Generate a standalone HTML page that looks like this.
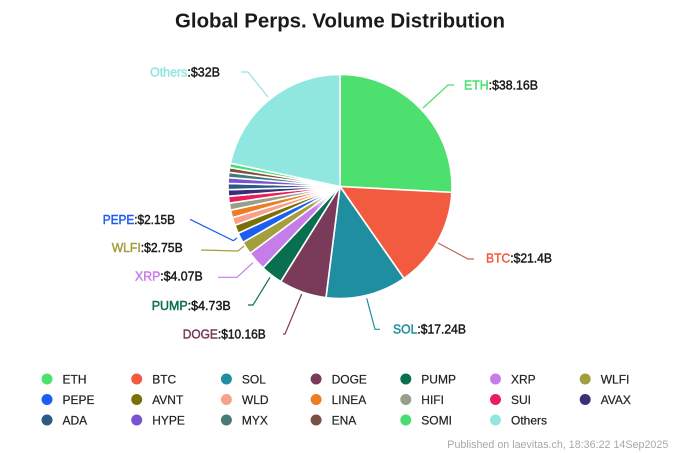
<!DOCTYPE html>
<html>
<head>
<meta charset="utf-8">
<style>
  html,body{margin:0;padding:0;background:#fff;}
  body{width:680px;height:453px;overflow:hidden;}
  svg{display:block;font-family:"Liberation Sans",sans-serif;}
</style>
</head>
<body>
<svg id="chart" width="680" height="453" viewBox="0 0 680 453" xmlns="http://www.w3.org/2000/svg">
  <defs>
    <radialGradient id="fade" cx="340" cy="186.5" r="34" gradientUnits="userSpaceOnUse">
      <stop offset="0" stop-color="#fff" stop-opacity="1"/>
      <stop offset="0.55" stop-color="#fff" stop-opacity="0.9"/>
      <stop offset="1" stop-color="#fff" stop-opacity="0"/>
    </radialGradient>
  </defs>
  <rect width="680" height="453" fill="#fff"/>
  <text x="340" y="27.5" text-anchor="middle" font-size="20.5" font-weight="bold" fill="#1a1a1a" textLength="330" lengthAdjust="spacingAndGlyphs">Global Perps. Volume Distribution</text>

  <g id="pie"></g>

  <!-- leader lines -->
  <g fill="none" stroke-width="1.2">
    <polyline points="423,108 448,85 454,85" stroke="#4ee06f"/>
    <polyline points="268,97 248,72 241,72" stroke="#90e7df"/>
    <polyline points="438,243 468,259 474,259" stroke="#c0675a"/>
    <polyline points="366.7,298.3 375,329.3 380,329.3" stroke="#208ea1"/>
    <polyline points="301.7,294 285,334 283,334" stroke="#7a3b5b"/>
    <polyline points="270,277.3 253,305 248,305" stroke="#08704f"/>
    <polyline points="253,262.7 237,277.3 218,277.3" stroke="#c77de9"/>
    <polyline points="244,246 238,251 201,250" stroke="#a39f3d"/>
    <polyline points="237,238 233.3,240.7 190,219.3" stroke="#1c5df2"/>
  </g>

  <!-- pie labels -->
  <g font-size="12.5" stroke-width="0.45">
    <text x="150" y="76.5" textLength="70" lengthAdjust="spacingAndGlyphs"><tspan fill="#90e7df" stroke="#90e7df">Others</tspan><tspan fill="#1a1a1a" stroke="#1a1a1a">:$32B</tspan></text>
    <text x="464" y="89.5" textLength="74" lengthAdjust="spacingAndGlyphs"><tspan fill="#4ee06f" stroke="#4ee06f">ETH</tspan><tspan fill="#1a1a1a" stroke="#1a1a1a">:$38.16B</tspan></text>
    <text x="486" y="262.5" textLength="66" lengthAdjust="spacingAndGlyphs"><tspan fill="#f35b40" stroke="#f35b40">BTC</tspan><tspan fill="#1a1a1a" stroke="#1a1a1a">:$21.4B</tspan></text>
    <text x="393" y="333.5" textLength="73" lengthAdjust="spacingAndGlyphs"><tspan fill="#208ea1" stroke="#208ea1">SOL</tspan><tspan fill="#1a1a1a" stroke="#1a1a1a">:$17.24B</tspan></text>
    <text x="182.7" y="338.5" textLength="83" lengthAdjust="spacingAndGlyphs"><tspan fill="#7a3b5b" stroke="#7a3b5b">DOGE</tspan><tspan fill="#1a1a1a" stroke="#1a1a1a">:$10.16B</tspan></text>
    <text x="151.7" y="310" textLength="79" lengthAdjust="spacingAndGlyphs"><tspan fill="#08704f" stroke="#08704f">PUMP</tspan><tspan fill="#1a1a1a" stroke="#1a1a1a">:$4.73B</tspan></text>
    <text x="135" y="280.5" textLength="67.7" lengthAdjust="spacingAndGlyphs"><tspan fill="#c77de9" stroke="#c77de9">XRP</tspan><tspan fill="#1a1a1a" stroke="#1a1a1a">:$4.07B</tspan></text>
    <text x="111.7" y="251.8" textLength="71" lengthAdjust="spacingAndGlyphs"><tspan fill="#a39f3d" stroke="#a39f3d">WLFI</tspan><tspan fill="#1a1a1a" stroke="#1a1a1a">:$2.75B</tspan></text>
    <text x="102.7" y="223.8" textLength="72.3" lengthAdjust="spacingAndGlyphs"><tspan fill="#1c5df2" stroke="#1c5df2">PEPE</tspan><tspan fill="#1a1a1a" stroke="#1a1a1a">:$2.15B</tspan></text>
  </g>

  <!-- legend -->
  <g font-size="12" fill="#222" stroke="#222" stroke-width="0.2">
    <circle cx="47" cy="379" r="5.5" fill="#4ee06f" stroke="none"/><text x="62.5" y="383.3">ETH</text>
    <circle cx="136.7" cy="379" r="5.5" fill="#f35b40" stroke="none"/><text x="152.2" y="383.3">BTC</text>
    <circle cx="226.4" cy="379" r="5.5" fill="#208ea1" stroke="none"/><text x="241.9" y="383.3">SOL</text>
    <circle cx="316.1" cy="379" r="5.5" fill="#7a3b5b" stroke="none"/><text x="331.6" y="383.3">DOGE</text>
    <circle cx="405.8" cy="379" r="5.5" fill="#08704f" stroke="none"/><text x="421.3" y="383.3">PUMP</text>
    <circle cx="495.5" cy="379" r="5.5" fill="#c77de9" stroke="none"/><text x="511" y="383.3">XRP</text>
    <circle cx="585.2" cy="379" r="5.5" fill="#a39f3d" stroke="none"/><text x="600.7" y="383.3">WLFI</text>

    <circle cx="47" cy="399.5" r="5.5" fill="#1c5df2" stroke="none"/><text x="62.5" y="403.8">PEPE</text>
    <circle cx="136.7" cy="399.5" r="5.5" fill="#7a7106" stroke="none"/><text x="152.2" y="403.8">AVNT</text>
    <circle cx="226.4" cy="399.5" r="5.5" fill="#f8a08b" stroke="none"/><text x="241.9" y="403.8">WLD</text>
    <circle cx="316.1" cy="399.5" r="5.5" fill="#ea7d26" stroke="none"/><text x="331.6" y="403.8">LINEA</text>
    <circle cx="405.8" cy="399.5" r="5.5" fill="#959f8a" stroke="none"/><text x="421.3" y="403.8">HIFI</text>
    <circle cx="495.5" cy="399.5" r="5.5" fill="#e91f5d" stroke="none"/><text x="511" y="403.8">SUI</text>
    <circle cx="585.2" cy="399.5" r="5.5" fill="#3c2f78" stroke="none"/><text x="600.7" y="403.8">AVAX</text>

    <circle cx="47" cy="420" r="5.5" fill="#2c5a83" stroke="none"/><text x="62.5" y="424.3">ADA</text>
    <circle cx="136.7" cy="420" r="5.5" fill="#7853d4" stroke="none"/><text x="152.2" y="424.3">HYPE</text>
    <circle cx="226.4" cy="420" r="5.5" fill="#467a77" stroke="none"/><text x="241.9" y="424.3">MYX</text>
    <circle cx="316.1" cy="420" r="5.5" fill="#7a5043" stroke="none"/><text x="331.6" y="424.3">ENA</text>
    <circle cx="405.8" cy="420" r="5.5" fill="#46dd74" stroke="none"/><text x="421.3" y="424.3">SOMI</text>
    <circle cx="495.5" cy="420" r="5.5" fill="#90e7df" stroke="none"/><text x="511" y="424.3">Others</text>
  </g>

  <text x="447.3" y="448" font-size="11" fill="#a8a8a8" textLength="221" lengthAdjust="spacingAndGlyphs">Published on laevitas.ch, 18:36:22 14Sep2025</text>
</svg>
<script>
(function(){
  var data=[
    [38.16,'#4ee06f'],[21.4,'#f35b40'],[17.24,'#208ea1'],[10.16,'#7a3b5b'],
    [4.73,'#08704f'],[4.07,'#c77de9'],[2.75,'#a39f3d'],[2.15,'#1c5df2'],
    [1.8,'#7a7106'],[1.7,'#f8a08b'],[1.6,'#ea7d26'],[1.5,'#959f8a'],
    [1.45,'#e91f5d'],[1.4,'#3c2f78'],[1.3,'#2c5a83'],[1.25,'#7853d4'],
    [1.1,'#467a77'],[1.0,'#7a5043'],[0.94,'#46dd74'],[32,'#90e7df']
  ];
  var cx=340,cy=186.5,r=112,total=0,i;
  for(i=0;i<data.length;i++) total+=data[i][0];
  var g=document.getElementById('pie'),a=0,ns='http://www.w3.org/2000/svg';
  var fadeStart=0,fadeEnd=0;
  function arcPath(a0,a1,rr){
    var x0=cx+rr*Math.sin(a0),y0=cy-rr*Math.cos(a0);
    var x1=cx+rr*Math.sin(a1),y1=cy-rr*Math.cos(a1);
    var large=(a1-a0)>Math.PI?1:0;
    return 'M'+cx+','+cy+' L'+x0.toFixed(2)+','+y0.toFixed(2)+' A'+rr+','+rr+' 0 '+large+' 1 '+x1.toFixed(2)+','+y1.toFixed(2)+' Z';
  }
  for(i=0;i<data.length;i++){
    var a0=a,a1=a+data[i][0]/total*2*Math.PI; a=a1;
    if(i===5) fadeStart=a0;
    if(i===18) fadeEnd=a1;
    var p=document.createElementNS(ns,'path');
    p.setAttribute('d',arcPath(a0,a1,r));
    p.setAttribute('fill',data[i][1]);
    p.setAttribute('stroke','#fff');
    p.setAttribute('stroke-width','1.6');
    p.setAttribute('stroke-linejoin','round');
    g.appendChild(p);
  }
  // white fade near center over small slices
  var w=document.createElementNS(ns,'path');
  w.setAttribute('d',arcPath(fadeStart+0.02,fadeEnd,34));
  w.setAttribute('fill','url(#fade)');
  g.appendChild(w);
})();
</script>
</body>
</html>
